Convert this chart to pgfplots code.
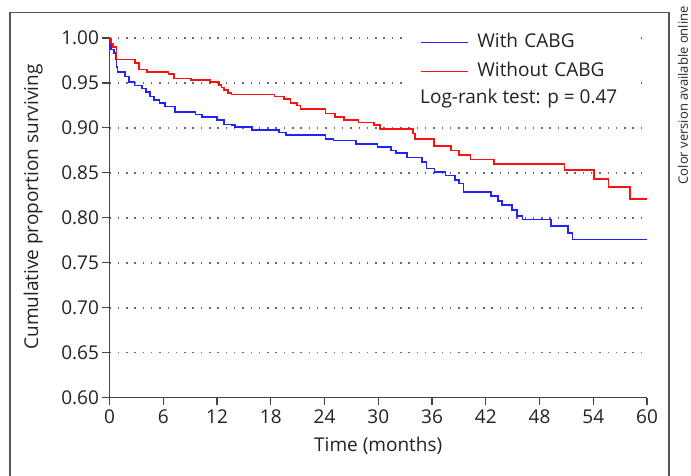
\documentclass[border=0pt]{standalone}
\usepackage{fontspec}
\setmainfont{Open Sans}
\usepackage{pgfplots}
\pgfplotsset{compat=1.18}

\definecolor{framegray}{HTML}{555555}
\definecolor{axisgray}{HTML}{444444}
\definecolor{txt}{HTML}{222222}
\definecolor{kmblue}{HTML}{2222FF}
\definecolor{kmred}{HTML}{FF1010}

\begin{document}
\begin{tikzpicture}[font=\fontsize{19}{23}\selectfont, text=txt]
% page extent and outer frame
\useasboundingbox (-109.5pt,-77.3pt) rectangle (581.5pt,397.7pt);
\draw[framegray, line width=1.4pt] (-99.5pt,-80pt) -- (-99.5pt,385pt) -- (559.5pt,385pt) -- (559.5pt,-80pt);
\node[rotate=90, anchor=east, inner sep=0pt, font=\fontsize{13}{15}\selectfont, text=black!85]
  at (573.5pt,391.7pt) {Color version available online};

\begin{axis}[
  at={(0pt,0pt)}, anchor=origin,
  scale only axis, width=537.5pt, height=359.7pt,
  xmin=0, xmax=60, ymin=0.6, ymax=1.0,
  axis x line=bottom, axis y line=left,
  axis line style={-, axisgray, line width=1.2pt},
  xtick={0,6,...,60},
  ytick={0.60,0.65,0.70,0.75,0.80,0.85,0.90,0.95,1.00},
  tick align=outside, major tick length=7pt,
  tick style={axisgray, line width=1.1pt},
  /pgf/number format/assume math mode=true,
  yticklabel style={/pgf/number format/fixed, /pgf/number format/fixed zerofill,
    /pgf/number format/precision=2},
  xticklabel style={yshift=-1.5pt},
  ymajorgrids,
  major grid style={axisgray!80, line width=1.5pt, dash pattern=on 1.5pt off 6.8pt},
  xlabel={Time (months)},
  ylabel={Cumulative proportion surviving},
  xlabel style={at={(axis description cs:0.5,-0.135)}, anchor=center},
  ylabel style={at={(axis description cs:-0.142,0.530)}, anchor=center},
  legend style={at={(rel axis cs:0.5553,1.0285)}, anchor=north west,
    draw=none, fill=white, inner xsep=12pt, inner ysep=6pt,
    row sep=12.5pt, column sep=9pt,
    nodes={inner sep=0pt, text height=13.5pt, text depth=3pt, anchor=west,
      text width=150pt, align=left}},
  legend cell align=left,
  legend image code/.code={\draw[#1, line width=1.2pt] (0pt,0pt) -- (47pt,0pt);},
]

% With CABG
\addplot[const plot, kmblue, line width=1.6pt] coordinates {
  (0,1.000) (0.1,0.995) (0.2,0.987) (0.5,0.983) (0.7,0.976) (0.8,0.968)
  (0.9,0.962) (1.7,0.957) (2.2,0.951) (2.8,0.947) (3.6,0.944) (4.1,0.940)
  (4.5,0.935) (5.0,0.931) (5.6,0.928) (6.2,0.924) (7.3,0.918) (9.6,0.915)
  (10.3,0.912) (12.0,0.909) (12.8,0.904) (13.6,0.903) (14.0,0.901) (15.9,0.898)
  (18.9,0.895) (19.7,0.892) (24.1,0.888) (25.0,0.886) (27.5,0.882) (29.9,0.879)
  (31.4,0.875) (32.0,0.872) (33.2,0.867) (34.9,0.862) (35.4,0.855) (36.3,0.851)
  (37.5,0.847) (38.6,0.842) (39.0,0.838) (39.5,0.829) (42.6,0.824) (43.4,0.819)
  (43.8,0.814) (44.9,0.809) (45.5,0.802) (46.1,0.798) (49.3,0.791) (51.2,0.783)
  (51.7,0.776) (60,0.776)
};
\addlegendentry{With CABG}

% Without CABG
\addplot[const plot, kmred, line width=1.6pt] coordinates {
  (0,1.000) (0.2,0.994) (0.4,0.990) (0.8,0.976) (2.85,0.972) (3.3,0.965)
  (4.2,0.962) (6.6,0.960) (7.2,0.955) (9.1,0.953) (11.2,0.951) (12.2,0.948)
  (12.5,0.945) (12.8,0.942) (13.2,0.939) (13.6,0.937) (18.4,0.935) (19.5,0.932)
  (20.2,0.928) (20.9,0.925) (21.3,0.921) (24.1,0.916) (25.2,0.912) (26.2,0.909)
  (27.8,0.906) (29.5,0.903) (30.2,0.899) (33.9,0.894) (34.1,0.888) (36.2,0.880)
  (38.1,0.875) (39.0,0.870) (40.3,0.865) (42.9,0.860) (50.8,0.853) (54.1,0.843)
  (55.7,0.834) (58.1,0.821) (60,0.821)
};
\addlegendentry{Without CABG}

\node[anchor=west, fill=white, inner xsep=12pt, inner ysep=9pt,
  text height=13.5pt, text depth=4pt]
  at (rel axis cs:0.5553,0.8304) {Log-rank test: p = 0.47};
\end{axis}
\end{tikzpicture}
\end{document}
